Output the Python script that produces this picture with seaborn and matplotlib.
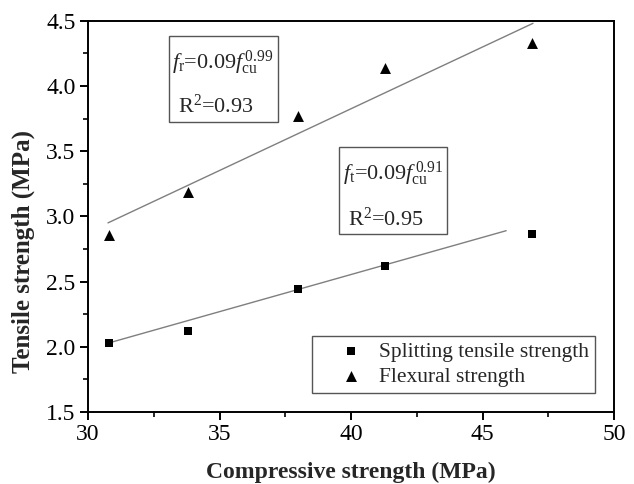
import matplotlib
matplotlib.use("Agg")
import matplotlib.pyplot as plt
from matplotlib.patches import Rectangle
from matplotlib.ticker import MultipleLocator
import pandas as pd
import seaborn as sns

# compressive strength of the mixes (MPa)
fcu = [30.8, 33.8, 38.0, 41.3, 46.9]
# measured strengths (MPa)
splitting = [2.03, 2.12, 2.44, 2.62, 2.865]
flexural = [2.855, 3.19, 3.77, 4.14, 4.33]

# fitted lines as drawn in the figure (end points)
fit_split_x = [30.8, 45.9]
fit_split_y = [2.03, 2.89]
fit_flex_x = [30.76, 46.92]
fit_flex_y = [2.95, 4.48]

series_names = ["Splitting tensile strength", "Flexural strength"]

df = pd.concat([
    pd.DataFrame({"fcu": fcu, "strength": splitting, "type": series_names[0]}),
    pd.DataFrame({"fcu": fcu, "strength": flexural, "type": series_names[1]}),
])

sns.set_style("ticks")
plt.rcParams["font.family"] = ["Liberation Serif", "DejaVu Serif"]
plt.rcParams["mathtext.fontset"] = "custom"
plt.rcParams["mathtext.rm"] = "Liberation Serif"
plt.rcParams["mathtext.it"] = "Liberation Serif:italic"
plt.rcParams["mathtext.bf"] = "Liberation Serif:bold"

fig = plt.figure(figsize=(6.34, 4.84), dpi=100)
ax = fig.add_axes([88 / 634, 1 - 412 / 484, 526 / 634, 391.3 / 484])

markers = {series_names[0]: "s", series_names[1]: "^"}
sizes = {series_names[0]: 36, series_names[1]: 62}
for name in series_names:
    sub = df[df["type"] == name]
    sns.scatterplot(data=sub, x="fcu", y="strength", marker=markers[name],
                    s=sizes[name], color="black", edgecolor="black",
                    linewidth=0, label=name, ax=ax, zorder=3)

# trend lines
ax.plot(fit_split_x, fit_split_y, color="#7f7f7f", lw=1.0, zorder=2)
ax.plot(fit_flex_x, fit_flex_y, color="#7f7f7f", lw=1.0, zorder=2)

ax.set_xlim(30, 50)
ax.xaxis.set_major_locator(MultipleLocator(5))
ax.xaxis.set_minor_locator(MultipleLocator(2.5))
ax.yaxis.set_major_locator(MultipleLocator(0.5))
ax.yaxis.set_minor_locator(MultipleLocator(0.25))
ax.set_yticks(ax.get_yticks())
ax.set_yticklabels([f"{v:.1f}" for v in ax.get_yticks()])
ax.set_ylim(1.5, 4.5)

ax.tick_params(which="major", direction="out", length=6, width=1.4,
               labelsize=17, pad=3, color="black", labelcolor="black")
ax.tick_params(which="minor", direction="out", length=3.3, width=1.4)
ax.tick_params(top=False, right=False, which="both")
for sp in ax.spines.values():
    sp.set_linewidth(1.4)
    sp.set_color("black")
    sp.set_visible(True)

ax.set_xlabel("Compressive strength (MPa)", fontsize=17, fontweight="bold", labelpad=12)
ax.set_ylabel("Tensile strength (MPa)", fontsize=18, fontweight="bold")
ax.yaxis.set_label_coords(-0.10, 0.41)

# equation boxes
box_kw = dict(fill=False, edgecolor="#555555", lw=1.0, zorder=4)
ax.add_patch(Rectangle((33.08, 3.72), 4.14, 0.663, **box_kw))
ax.add_patch(Rectangle((39.54, 2.865), 4.11, 0.667, **box_kw))

eq_kw = dict(fontsize=16, va="baseline", ha="left", zorder=5)
ax.text(33.19, 4.13, r"$\mathit{f}_{\mathrm{r}}$=0.09$\mathit{f}_{\mathrm{cu}}^{\,0.99}$", **eq_kw)
ax.text(33.42, 3.795, r"R$^{2}$=0.93", **eq_kw)
ax.text(39.70, 3.279, r"$\mathit{f}_{\mathrm{t}}$=0.09$\mathit{f}_{\mathrm{cu}}^{\,0.91}$", **eq_kw)
ax.text(39.89, 2.926, r"R$^{2}$=0.95", **eq_kw)

leg = ax.legend(loc="lower right", bbox_to_anchor=(0.964, 0.0486),
                fontsize=15.5, frameon=True, fancybox=False, framealpha=1,
                edgecolor="#555555", borderpad=0.3, handletextpad=-0.2,
                labelspacing=0.2, borderaxespad=0, handlelength=3.0,
                markerscale=1.0)
leg.get_frame().set_linewidth(1.0)

fig.savefig("out.png", dpi=100)
